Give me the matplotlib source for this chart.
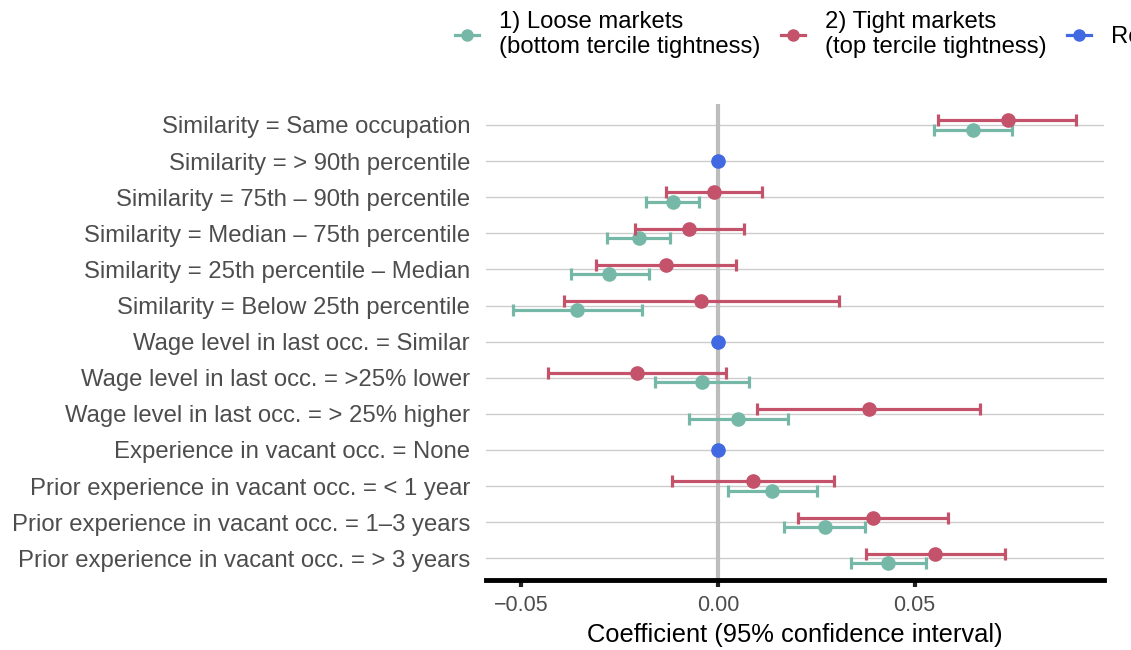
import matplotlib
matplotlib.use("Agg")
import matplotlib.pyplot as plt
from matplotlib.lines import Line2D
import numpy as np

plt.rcParams['font.family'] = ['Liberation Sans', 'DejaVu Sans']

labels = [
    "Similarity = Same occupation",
    "Similarity = > 90th percentile",
    "Similarity = 75th \u2013 90th percentile",
    "Similarity = Median \u2013 75th percentile",
    "Similarity = 25th percentile \u2013 Median",
    "Similarity = Below 25th percentile",
    "Wage level in last occ. = Similar",
    "Wage level in last occ. = >25% lower",
    "Wage level in last occ. = > 25% higher",
    "Experience in vacant occ. = None",
    "Prior experience in vacant occ. = < 1 year",
    "Prior experience in vacant occ. = 1\u20133 years",
    "Prior experience in vacant occ. = > 3 years",
]

# Reference categories (rows with coefficient fixed at 0)
ref_rows = [1, 6, 9]

# Loose markets (bottom tercile), None for reference rows
loose_est = [0.0650, None, -0.0114, -0.0202, -0.0276, -0.0358, None, -0.0040, 0.0052, None, 0.0138, 0.0272, 0.0433]
loose_lo  = [0.0550, None, -0.0182, -0.0283, -0.0374, -0.0522, None, -0.0161, -0.0073, None, 0.0025, 0.0169, 0.0339]
loose_hi  = [0.0749, None, -0.0047, -0.0121, -0.0176, -0.0192, None, 0.0079, 0.0178, None, 0.0252, 0.0374, 0.0529]

# Tight markets (top tercile)
tight_est = [0.0737, None, -0.0010, -0.0073, -0.0133, -0.0043, None, -0.0206, 0.0383, None, 0.0089, 0.0394, 0.0553]
tight_lo  = [0.0560, None, -0.0132, -0.0211, -0.0310, -0.0391, None, -0.0433, 0.0099, None, -0.0116, 0.0204, 0.0377]
tight_hi  = [0.0912, None, 0.0111, 0.0066, 0.0046, 0.0307, None, 0.0020, 0.0667, None, 0.0294, 0.0585, 0.0729]

ref_est = [0.0, 0.0, 0.0]

series_names = ["1) Loose markets\n(bottom tercile tightness)",
                "2) Tight markets\n(top tercile tightness)",
                "Reference category"]

xticks = [-0.05, 0.0, 0.05]
xticklabels = ["\u22120.05", "0.00", "0.05"]

c_loose = "#76B8A8"
c_tight = "#C4526B"
c_ref = "#4169E1"

W, H = 1131, 650
fig = plt.figure(figsize=(W / 100, H / 100), dpi=100)
ax = fig.add_axes([486 / W, (H - 580) / H, (1104 - 486) / W, (580 - 104) / H])

ypos = np.arange(len(labels))
off = 0.13

def draw(est, lo, hi, dy, color, z):
    idx = [i for i, v in enumerate(est) if v is not None]
    e = np.array([est[i] for i in idx])
    l = np.array([lo[i] for i in idx])
    h = np.array([hi[i] for i in idx])
    y = ypos[idx] + dy
    ax.errorbar(e, y, xerr=[e - l, h - e], fmt='o', color=color, ms=9.5,
                elinewidth=2.3, capsize=4, capthick=2.3, zorder=z)

for y in ypos:
    ax.axhline(y, color="#cccccc", lw=1.0, zorder=1)
ax.axvline(0, color="#bdbdbd", lw=3, zorder=2)

draw(loose_est, loose_lo, loose_hi, off, c_loose, 3)
draw(tight_est, tight_lo, tight_hi, -off, c_tight, 4)
ax.plot(ref_est, ypos[ref_rows], 'o', color=c_ref, ms=9.5, zorder=5, ls='none')

ax.set_xlim(-0.059, 0.0982)
ax.set_ylim(len(labels) - 1 + 0.6, -0.58)
ax.set_yticks(ypos)
ax.set_yticklabels(labels, fontsize=17.2, color="#4d4d4d")
ax.tick_params(axis='y', length=0, pad=11.5)
ax.set_xticks(xticks)
ax.set_xticklabels(xticklabels, fontsize=15.5, color="#4d4d4d")
ax.tick_params(axis='x', length=5, width=3, color="#222222", pad=6)
ax.set_xlabel("Coefficient (95% confidence interval)", fontsize=18.4, color="black", labelpad=5)

for s in ["top", "right", "left"]:
    ax.spines[s].set_visible(False)
ax.spines["bottom"].set_linewidth(3.5)
ax.spines["bottom"].set_color("black")

handles = [
    Line2D([], [], color=c_loose, marker='o', lw=2.3, ms=8),
    Line2D([], [], color=c_tight, marker='o', lw=2.3, ms=8),
    Line2D([], [], color=c_ref, marker='o', lw=2.3, ms=8),
]
fig.legend(handles, series_names, loc="upper left", ncol=3,
           bbox_to_anchor=(455 / W, 1.0 - 11 / H), frameon=False, fontsize=17.2,
           handlelength=1.0, handletextpad=0.85, columnspacing=0.85,
           borderaxespad=0.0, borderpad=0.0, labelspacing=0.0)

fig.savefig("out.png", dpi=100)
